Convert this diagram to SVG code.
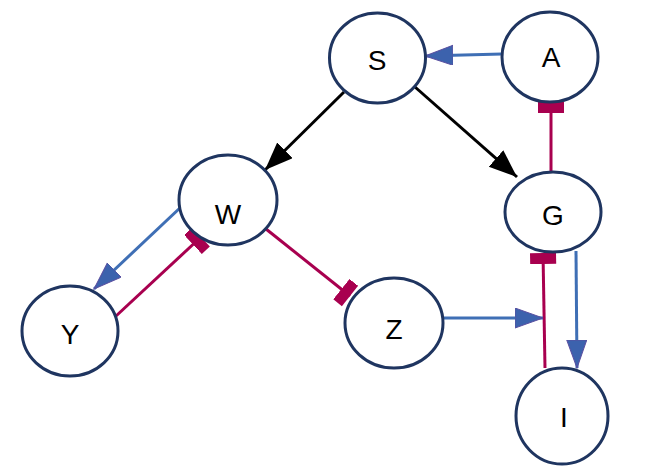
<svg xmlns="http://www.w3.org/2000/svg" width="663" height="466" viewBox="0 0 663 466">
<style>
.node{fill:#ffffff;stroke:#1f3560;stroke-width:3}
.lbl{font-family:"Liberation Sans",Arial,sans-serif;font-size:28px;fill:#000;text-anchor:middle}
.blue{stroke:#3f6fb5;stroke-width:3;fill:none}
.red{stroke:#a8004f;stroke-width:3;fill:none}
.black{stroke:#000;stroke-width:3;fill:none}
</style>
<defs>
<marker id="ab" markerUnits="userSpaceOnUse" markerWidth="30" markerHeight="22" refX="28" refY="10" orient="auto">
<path d="M0,0 L28,10 L0,20 Z" fill="#3c62ad" stroke="#5a4fa0" stroke-width="1"/>
</marker>
<marker id="ak" markerUnits="userSpaceOnUse" markerWidth="30" markerHeight="24" refX="28" refY="11" orient="auto">
<path d="M0,0 L28,11 L0,22 Z" fill="#000"/>
</marker>
<marker id="bar" markerUnits="userSpaceOnUse" markerWidth="12" markerHeight="27" refX="11" refY="13" orient="auto">
<rect x="0" y="0" width="11" height="26" fill="#a8004f"/>
</marker>
</defs>
<g id="connectors">
<path class="blue" d="M502,54 L425,56" marker-end="url(#ab)"/>
<path class="black" d="M344,92 L265,170" marker-end="url(#ak)"/>
<path class="black" d="M415,87 L517,177" marker-end="url(#ak)"/>
<path class="red" d="M551,172 L551,102" marker-end="url(#bar)"/>
<path class="red" d="M545,368 L543,253" marker-end="url(#bar)"/>
<path class="blue" d="M576,251 L577,368" marker-end="url(#ab)"/>
<path class="blue" d="M443,318 L543,318" marker-end="url(#ab)"/>
<path class="blue" d="M181,207 L94,289" marker-end="url(#ab)"/>
<path class="red" d="M116,316 L201,237" marker-end="url(#bar)"/>
<path class="red" d="M266,229 L350,296" marker-end="url(#bar)"/>
</g>
<g id="S"><ellipse class="node" cx="377.5" cy="58" rx="48" ry="45"/><text class="lbl" x="377" y="70">S</text></g>
<g id="A"><ellipse class="node" cx="550" cy="57" rx="48" ry="45"/><text class="lbl" x="551" y="67">A</text></g>
<g id="W"><ellipse class="node" cx="228" cy="200" rx="49" ry="45"/><text class="lbl" x="228" y="224">W</text></g>
<g id="G"><ellipse class="node" cx="553" cy="212" rx="48" ry="40"/><text class="lbl" x="553" y="225">G</text></g>
<g id="Y"><ellipse class="node" cx="70" cy="331" rx="48" ry="45"/><text class="lbl" x="70" y="344">Y</text></g>
<g id="Z"><ellipse class="node" cx="394" cy="323" rx="49" ry="45"/><text class="lbl" x="394" y="339">Z</text></g>
<g id="I"><ellipse class="node" cx="562" cy="416" rx="46" ry="48"/><text class="lbl" x="564" y="427">I</text></g>
</svg>
